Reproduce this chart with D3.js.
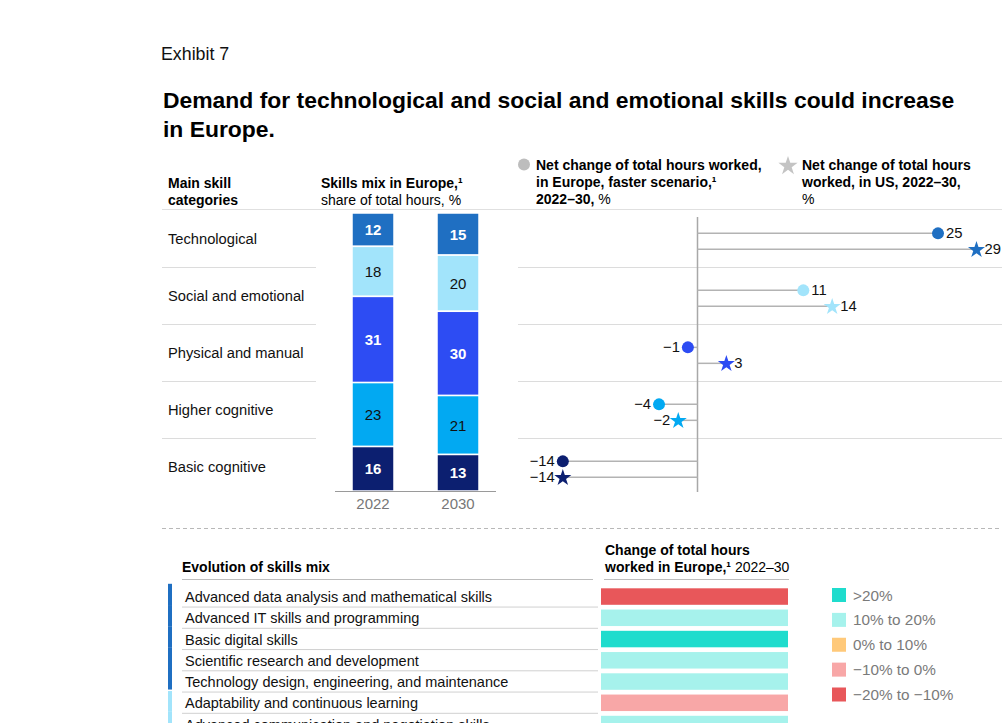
<!DOCTYPE html>
<html>
<head>
<meta charset="utf-8">
<script src="https://cdn.jsdelivr.net/npm/d3@7/dist/d3.min.js"></script>
<style>
  body { margin: 0; background: #fff; }
  svg { display: block; font-family: "Liberation Sans", Arial, sans-serif; }
</style>
</head>
<body>
<svg id="chart" width="1002" height="723"></svg>
<script>
// ---------- DATA ----------
const categories = ["Technological", "Social and emotional", "Physical and manual", "Higher cognitive", "Basic cognitive"];
const years = ["2022", "2030"];
const share2022 = [12, 18, 31, 23, 16];
const share2030 = [15, 20, 30, 21, 13];
const europeChange = [25, 11, -1, -4, -14];
const usChange = [29, 14, 3, -2, -14];

const skills = [
  "Advanced data analysis and mathematical skills",
  "Advanced IT skills and programming",
  "Basic digital skills",
  "Scientific research and development",
  "Technology design, engineering, and maintenance",
  "Adaptability and continuous learning",
  "Advanced communication and negotiation skills"
];
const skillGroup = ["Technological", "Technological", "Technological", "Technological", "Technological", "Social and emotional", "Social and emotional"];
const skillChange = ["−20% to −10%", "10% to 20%", ">20%", "10% to 20%", "10% to 20%", "−10% to 0%", "10% to 20%"];
const changeBins = [">20%", "10% to 20%", "0% to 10%", "−10% to 0%", "−20% to −10%"];

// ---------- STYLE ----------
const catColors = ["#1f6fc2", "#a2e4fb", "#2d4cf3", "#02a9f2", "#0c1f70"];
const binColors = ["#1fdccd", "#a6f2ec", "#ffc97a", "#f8a7a7", "#e8575a"];
const labelWhite = [true, false, true, false, true];

const svg = d3.select("#chart");
const cat = d3.scaleOrdinal().domain(categories).range(catColors);
const binColor = d3.scaleOrdinal().domain(changeBins).range(binColors);

// ---------- TITLE ----------
svg.append("text").attr("x", 161).attr("y", 60).attr("font-size", 17.8).attr("fill", "#111").text("Exhibit 7");
svg.append("text").attr("x", 163).attr("y", 108).attr("font-size", 22.9).attr("font-weight", "bold").attr("fill", "#000")
  .text("Demand for technological and social and emotional skills could increase");
svg.append("text").attr("x", 163).attr("y", 137).attr("font-size", 22.9).attr("font-weight", "bold").attr("fill", "#000")
  .text("in Europe.");

// ---------- HEADERS ----------
function multi(x, lines) {
  lines.forEach(([y, parts]) => {
    const t = svg.append("text").attr("x", x).attr("y", y).attr("font-size", 14).attr("fill", "#000");
    parts.forEach(([s, b]) => t.append("tspan").attr("font-weight", b ? "bold" : "normal").text(s));
  });
}
multi(168, [[188, [["Main skill", 1]]], [205, [["categories", 1]]]]);
multi(321, [[188, [["Skills mix in Europe,¹", 1]]], [205, [["share of total hours, %", 0]]]]);
multi(536, [[170, [["Net change of total hours worked,", 1]]], [187, [["in Europe, faster scenario,¹", 1]]], [204, [["2022–30,", 1], [" %", 0]]]]);
multi(802, [[170, [["Net change of total hours", 1]]], [187, [["worked, in US, 2022–30,", 1]]], [204, [["%", 0]]]]);
svg.append("circle").attr("cx", 524).attr("cy", 164.5).attr("r", 6).attr("fill", "#bdbdbd");
svg.append("path").attr("d", d3.symbol(d3.symbolStar, 115)()).attr("transform", "translate(788,166)").attr("fill", "#c4c4c4");

// header underline
svg.append("line").attr("x1", 162).attr("x2", 1002).attr("y1", 209.5).attr("y2", 209.5).attr("stroke", "#e0e0e0").attr("stroke-width", 1.2);

// ---------- ROWS ----------
const y = d3.scaleBand().domain(categories).range([210, 495]);
svg.selectAll(".rowlab").data(categories).join("text")
  .attr("x", 168).attr("y", d => y(d) + y.bandwidth() / 2 + 5)
  .attr("font-size", 14.7).attr("fill", "#111").text(d => d);
const seps = categories.slice(1);
svg.selectAll(".sepL").data(seps).join("line")
  .attr("x1", 162).attr("x2", 316).attr("y1", d => y(d) + 0.5).attr("y2", d => y(d) + 0.5)
  .attr("stroke", "#dcdcdc");
svg.selectAll(".sepR").data(seps).join("line")
  .attr("x1", 518).attr("x2", 1002).attr("y1", d => y(d) + 0.5).attr("y2", d => y(d) + 0.5)
  .attr("stroke", "#dcdcdc");

// ---------- STACKED BARS ----------
const barData = years.map((yr, i) => {
  const o = { year: yr };
  const vals = i === 0 ? share2022 : share2030;
  categories.forEach((c, j) => o[c] = vals[j]);
  return o;
});
const stack = d3.stack().keys(categories).offset(d3.stackOffsetExpand).order(d3.stackOrderNone);
const series = stack(barData);
const xBar = d3.scaleOrdinal().domain(years).range([352, 437]);
const barW = 42;
const ys = d3.scaleLinear().domain([0, 1]).range([213, 491]);

const g = svg.append("g");
series.forEach((s, j) => {
  g.selectAll(null).data(s).join("rect")
    .attr("x", d => xBar(d.data.year))
    .attr("width", barW)
    .attr("y", d => ys(d[0]))
    .attr("height", d => ys(d[1]) - ys(d[0]))
    .attr("fill", catColors[j])
    .attr("stroke", "#fff").attr("stroke-width", 1.5);
  g.selectAll(null).data(s).join("text")
    .attr("x", d => xBar(d.data.year) + barW / 2)
    .attr("y", d => (ys(d[0]) + ys(d[1])) / 2 + 5.5)
    .attr("text-anchor", "middle")
    .attr("font-size", 15)
    .attr("font-weight", labelWhite[j] ? "bold" : "normal")
    .attr("fill", labelWhite[j] ? "#fff" : "#111")
    .text(d => d.data[categories[j]]);
});
svg.append("line").attr("x1", 335).attr("x2", 496).attr("y1", 491.5).attr("y2", 491.5).attr("stroke", "#9a9a9a").attr("stroke-width", 1.2);
svg.selectAll(".yr").data(years).join("text")
  .attr("x", d => xBar(d) + barW / 2).attr("y", 509).attr("text-anchor", "middle")
  .attr("font-size", 15).attr("fill", "#777").text(d => d);

// ---------- LOLLIPOP ----------
const xl = d3.scaleLinear().domain([0, 25]).range([697.5, 938]);
const lol = svg.append("g");
lol.append("line").attr("x1", xl(0)).attr("x2", xl(0)).attr("y1", 217).attr("y2", 492).attr("stroke", "#a8a8a8").attr("stroke-width", 1.5);
const fmt = v => (v < 0 ? "−" + Math.abs(v) : "" + v);
categories.forEach((c, i) => {
  const yc = y(c) + y.bandwidth() * 0.41;
  const yst = y(c) + y.bandwidth() * 0.69;
  [[europeChange[i], yc, "circle"], [usChange[i], yst, "star"]].forEach(([v, yy, kind]) => {
    lol.append("line").attr("x1", xl(0)).attr("x2", xl(v)).attr("y1", yy).attr("y2", yy)
      .attr("stroke", "#b3b3b3").attr("stroke-width", 1.5);
    if (kind === "circle") {
      lol.append("circle").attr("cx", xl(v)).attr("cy", yy).attr("r", 6).attr("fill", catColors[i]);
    } else {
      lol.append("path").attr("d", d3.symbol(d3.symbolStar, 90)()).attr("transform", `translate(${xl(v)},${yy + 0.5})`).attr("fill", catColors[i]);
    }
    lol.append("text").attr("x", xl(v) + (v < 0 ? -8 : 8)).attr("y", yy + 5)
      .attr("text-anchor", v < 0 ? "end" : "start").attr("font-size", 14.8).attr("fill", "#111").text(fmt(v));
  });
});

// dashed separator
svg.append("line").attr("x1", 162).attr("x2", 1002).attr("y1", 528.5).attr("y2", 528.5)
  .attr("stroke", "#b8b8b8").attr("stroke-dasharray", "4,3");

// ---------- BOTTOM TABLE ----------
svg.append("text").attr("x", 182).attr("y", 572).attr("font-size", 14).attr("font-weight", "bold").text("Evolution of skills mix");
multi(605, [[555, [["Change of total hours", 1]]], [572, [["worked in Europe,¹", 1], [" 2022–30", 0]]]]);
svg.append("line").attr("x1", 182).attr("x2", 593).attr("y1", 579.5).attr("y2", 579.5).attr("stroke", "#bdbdbd");
svg.append("line").attr("x1", 604).attr("x2", 789).attr("y1", 579.5).attr("y2", 579.5).attr("stroke", "#bdbdbd");

const yr = d3.scaleBand().domain(skills).range([585.8, 585.8 + 7 * 21.25]);
svg.selectAll(".skl").data(skills).join("line")
  .attr("x1", 182).attr("x2", 598).attr("y1", d => yr(d) + yr.bandwidth()).attr("y2", d => yr(d) + yr.bandwidth())
  .attr("stroke", "#d0d0d0");
svg.selectAll(".skt").data(skills).join("text")
  .attr("x", 185).attr("y", d => yr(d) + 16.3).attr("font-size", 14.5).attr("fill", "#111").text(d => d);
svg.selectAll(".skb").data(skills).join("rect")
  .attr("x", 601).attr("width", 187).attr("y", d => yr(d) + 2.5).attr("height", 16.5)
  .attr("fill", (d, i) => binColor(skillChange[i]));
svg.selectAll(".skg").data(skills).join("rect")
  .attr("x", 168).attr("width", 4)
  .attr("y", d => yr(d) - 2).attr("height", yr.bandwidth() + 0.2)
  .attr("fill", (d, i) => cat(skillGroup[i]));
svg.append("rect").attr("x", 168).attr("width", 4).attr("y", yr(skills[5]) - 2.5).attr("height", 1.5).attr("fill", "#fff");

// legend
const yl = d3.scalePoint().domain(changeBins).range([595, 694.5]);
svg.selectAll(".lgs").data(changeBins).join("rect")
  .attr("x", 832).attr("y", d => yl(d) - 7).attr("width", 14).attr("height", 14).attr("fill", d => binColor(d));
svg.selectAll(".lgt").data(changeBins).join("text")
  .attr("x", 853).attr("y", d => yl(d) + 5.5).attr("font-size", 15.3).attr("fill", "#7a7a7a").text(d => d);
</script>
</body>
</html>
